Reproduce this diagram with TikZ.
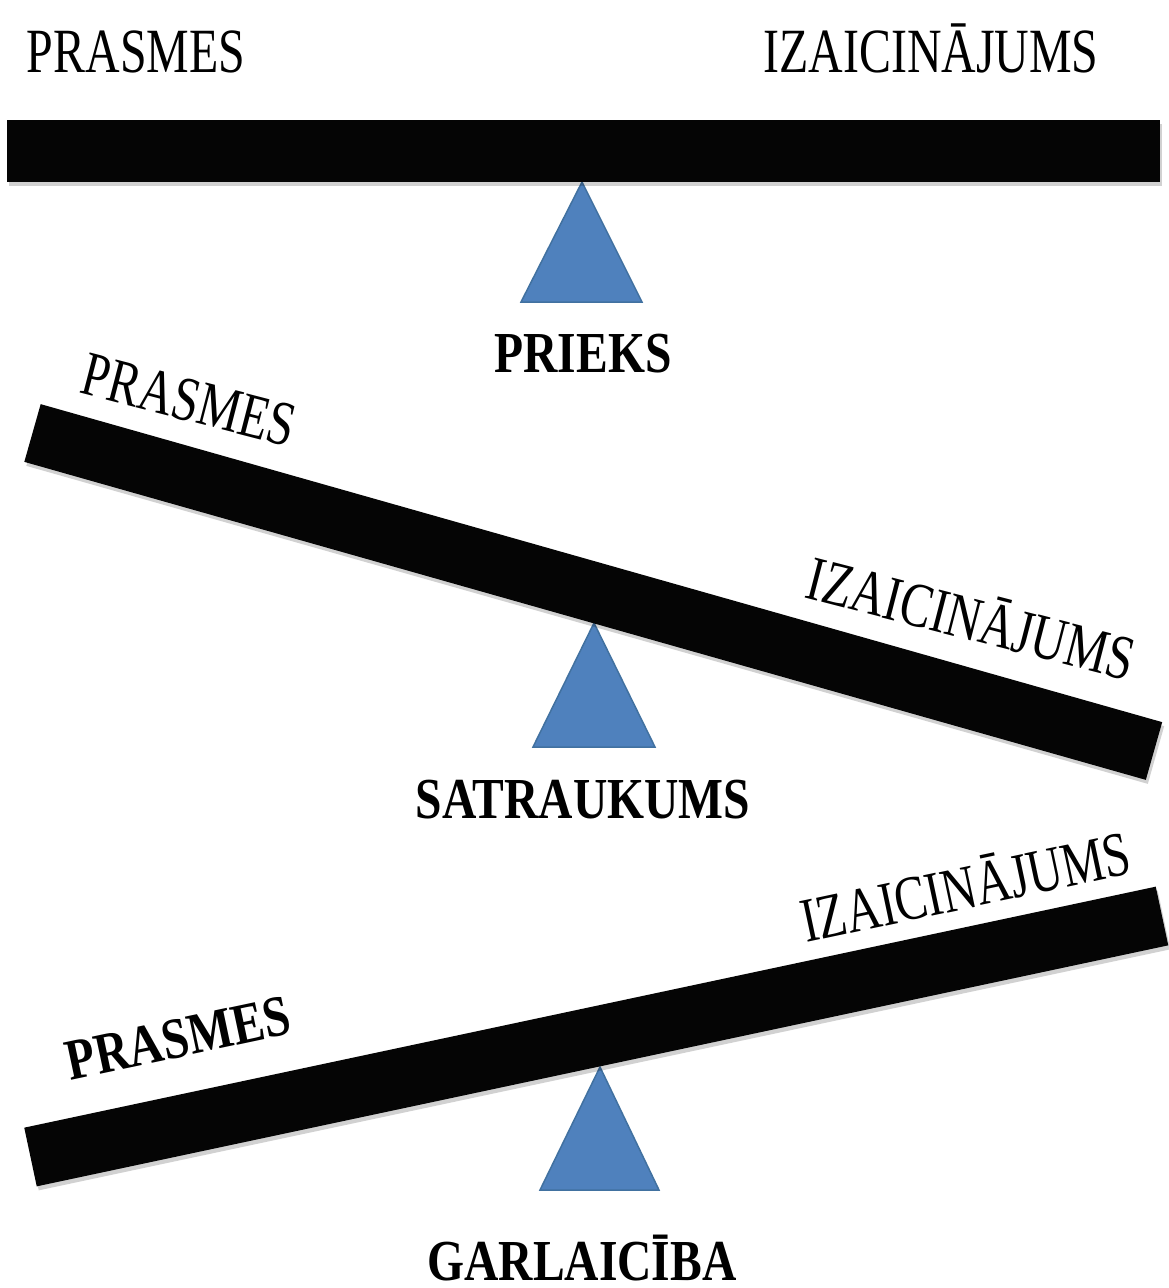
\documentclass[tikz,border=0pt]{standalone}
\usepackage{fontspec}
\newfontfamily\labfont[FakeStretch=0.76]{Liberation Serif}
\newfontfamily\labbfont[FakeStretch=0.82]{Liberation Serif}
\definecolor{tri}{RGB}{79,129,189}
\definecolor{triedge}{RGB}{65,113,160}
\definecolor{barc}{RGB}{5,5,5}
\tikzset{
  lab/.style={inner sep=0pt, anchor=base, font=\labfont\fontsize{63}{63}\selectfont},
  labb/.style={inner sep=0pt, anchor=base, font=\labbfont\bfseries\fontsize{58}{58}\selectfont},
  fulcrum/.style={fill=tri, draw=triedge, line width=1.5pt, line join=miter},
  beam/.style={draw=barc, line width=60pt, line cap=butt},
  beamshadow/.style={draw=black, opacity=0.18, line width=60pt, line cap=butt},
}
\begin{document}
\begin{tikzpicture}[x=1pt,y=-1pt]
\useasboundingbox (0,0) rectangle (1169,1288);
% ---------- top: balance ----------
\coordinate (t1a) at (521,302); \coordinate (t1b) at (642,302); \coordinate (t1c) at (582,182);
\draw[fulcrum] (t1a) -- (t1b) -- (t1c) -- cycle;
\fill[black, opacity=0.18] (9,124) rectangle (1162,186);
\fill[barc] (7,120) rectangle (1160,182);
\node[lab] (p1) at (136,72) {PRASMES};
\node[lab] (i1) at (931,72) {IZAICINĀJUMS};
\node[labb] (prieks) at (583,372) {PRIEKS};
% ---------- middle: anxiety ----------
\coordinate (t2a) at (533,747); \coordinate (t2b) at (655,747); \coordinate (t2c) at (594,623);
\draw[fulcrum] (t2a) -- (t2b) -- (t2c) -- cycle;
\coordinate (b2l) at (32.5,433); \coordinate (b2r) at (1154,751);
\draw[beamshadow] ([shift={(2,4)}]b2l) -- ([shift={(2,4)}]b2r);
\draw[beam] (b2l) -- (b2r);
\node[lab, rotate=-14.5] (p2) at (184,420) {PRASMES};
\node[lab, rotate=-14.5] (i2) at (966,639) {IZAICINĀJUMS};
\node[labb] (satr) at (583,818) {SATRAUKUMS};
% ---------- bottom: boredom ----------
\coordinate (t3a) at (540,1190); \coordinate (t3b) at (659,1190); \coordinate (t3c) at (600,1067);
\draw[fulcrum] (t3a) -- (t3b) -- (t3c) -- cycle;
\coordinate (b3l) at (30.5,1157); \coordinate (b3r) at (1162,916);
\draw[beamshadow] ([shift={(2,4)}]b3l) -- ([shift={(2,4)}]b3r);
\draw[beam] (b3l) -- (b3r);
\node[labb, rotate=12] (p3) at (182,1057) {PRASMES};
\node[lab, rotate=12] (i3) at (970,908) {IZAICINĀJUMS};
\node[labb] (garl) at (582,1280) {GARLAICĪBA};
\end{tikzpicture}
\end{document}
